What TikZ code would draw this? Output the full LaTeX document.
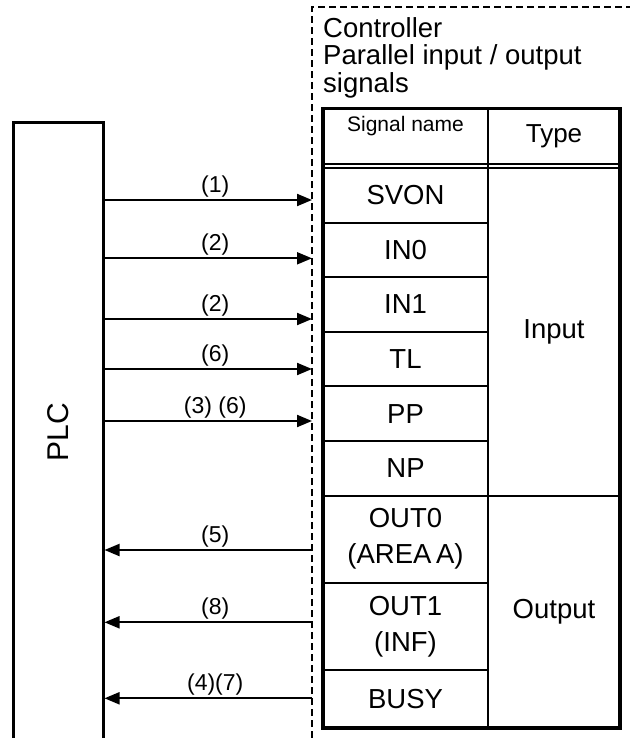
\documentclass[tikz,border=0pt]{standalone}
\usepackage{fontspec}
\setmainfont{Liberation Sans}
\usepackage{graphicx}
\usetikzlibrary{positioning,arrows.meta}
\newcommand{\tabfont}{\fontsize{27.5}{36}\selectfont}
\tikzset{
  plcbox/.style  ={draw, line width=3pt, minimum width=90pt, minimum height=618pt,
                   inner sep=0pt, font=\fontsize{30}{30}\selectfont},
  sigcell/.style ={draw, line width=2pt, outer sep=0pt, inner sep=0pt, align=center,
                   minimum width=165pt, minimum height=54.6pt, font=\tabfont},
  typecell/.style={sigcell, minimum width=132pt},
  ctrlframe/.style={line width=1.5pt, dash pattern=on 7pt off 4pt},
  tblout/.style  ={line width=3.5pt},
  arr/.style     ={-{Triangle[length=15pt,width=12pt]}, line width=2pt},
  el/.style      ={font=\fontsize{23}{23}\selectfont, above, inner sep=2pt, xshift=7pt},
}

\begin{document}
\begin{tikzpicture}[x=1pt,y=1pt]
  \useasboundingbox (0,0) rectangle (630,-738);
  \coordinate (fbot) at (312,-738);
  \coordinate (ftop) at (630,-7);
  \draw[ctrlframe] (fbot) |- (ftop);
  \node[anchor=north west, inner sep=0pt, align=left, font=\fontsize{27.5}{27.5}\selectfont] (ctrl) at (323,-17) {Controller\\Parallel input / output\\signals};
  \node[plcbox] (plc) at (58,-432) {\rotatebox{90}{PLC}};
  \node[sigcell, minimum height=56pt, text height=15pt, text depth=24pt, font=\fontsize{21}{21}\selectfont, anchor=north west] (hname) at (323,-108.5) {Signal name};
  \node[typecell, minimum height=56pt, font=\fontsize{26}{26}\selectfont, right=0pt of hname] (htype) {Type};
  \node[sigcell, below=3.5pt of hname] (svon) {SVON};
  \node[sigcell, below=0pt of svon] (in0) {IN0};
  \node[sigcell, below=0pt of in0] (in1) {IN1};
  \node[sigcell, below=0pt of in1] (tl) {TL};
  \node[sigcell, below=0pt of tl] (pp) {PP};
  \node[sigcell, below=0pt of pp] (np) {NP};
  \node[sigcell, below=0pt of np, minimum height=87.2pt] (out0) {OUT0\\(AREA\,A)};
  \node[sigcell, below=0pt of out0, minimum height=87.2pt] (out1) {OUT1\\(INF)};
  \node[sigcell, below=0pt of out1, minimum height=58pt] (busy) {BUSY};
  \node[typecell, anchor=north west, minimum height=327.6pt] (input) at (svon.north east) {Input};
  \node[typecell, anchor=north west, minimum height=232.4pt] (output) at (out0.north east) {Output};
  \draw[line width=2pt] (hname.south east) -- (svon.north east);
  \draw[tblout] (hname.north west) rectangle (output.south east);
  \coordinate (s1) at (312,-200);
  \coordinate (s2) at (312,-258.3);
  \coordinate (s3) at (312,-319);
  \coordinate (s4) at (312,-369);
  \coordinate (s5) at (312,-421);
  \coordinate (s6) at (312,-550);
  \coordinate (s7) at (312,-622.3);
  \coordinate (s8) at (312,-698.3);
  \draw[arr] (plc.east |- s1) -- node[el]{(1)} (s1);
  \draw[arr] (plc.east |- s2) -- node[el]{(2)} (s2);
  \draw[arr] (plc.east |- s3) -- node[el]{(2)} (s3);
  \draw[arr] (plc.east |- s4) -- node[el]{(6)} (s4);
  \draw[arr] (plc.east |- s5) -- node[el]{(3) (6)} (s5);
  \draw[arr] (s6) -- node[el]{(5)} (plc.east |- s6);
  \draw[arr] (s7) -- node[el]{(8)} (plc.east |- s7);
  \draw[arr] (s8) -- node[el]{(4)(7)} (plc.east |- s8);
\end{tikzpicture}
\end{document}
